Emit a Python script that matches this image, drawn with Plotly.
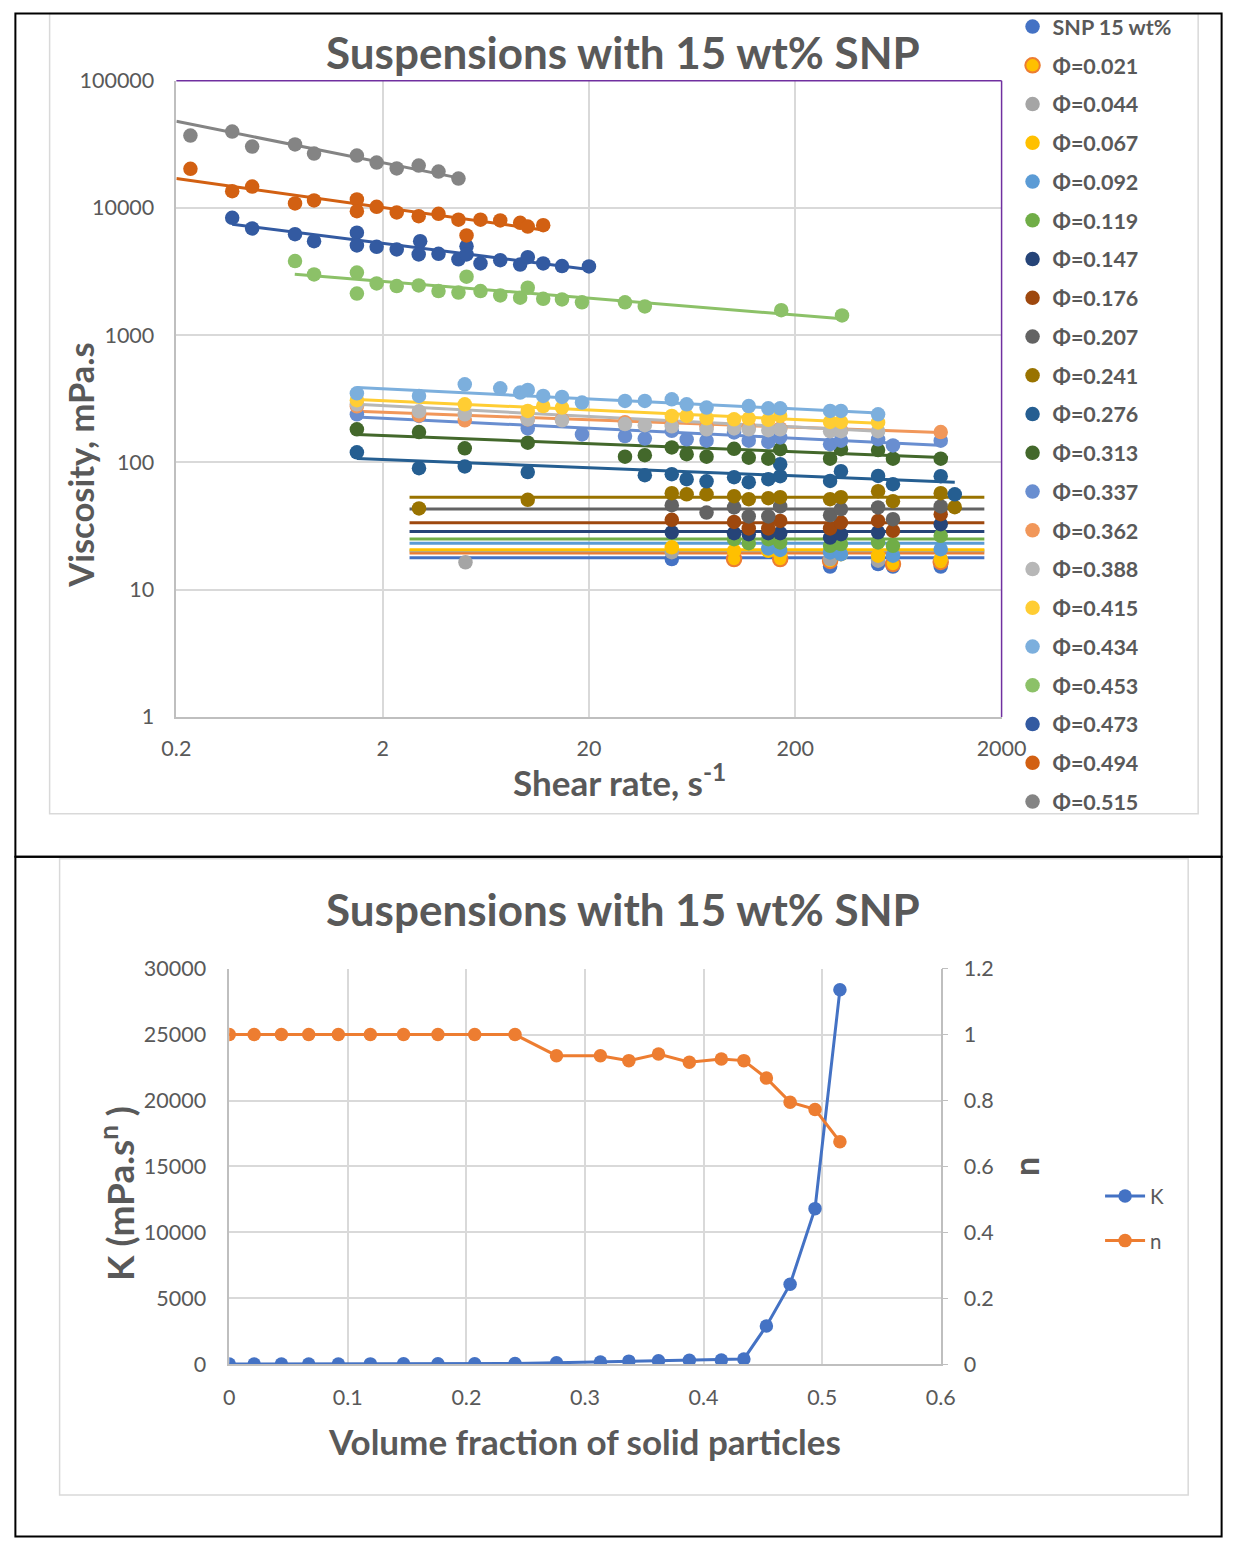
import numpy as np
import plotly.graph_objects as go

W, H = 1247, 1550

# ---------------- data ----------------
phi = [0, 0.021, 0.044, 0.067, 0.092, 0.119, 0.147, 0.176, 0.207, 0.241, 0.276,
       0.313, 0.337, 0.362, 0.388, 0.415, 0.434, 0.453, 0.473, 0.494, 0.515]
series_names = ['SNP 15 wt%'] + ['Φ=%.3f' % p for p in phi[1:]]
colors = ['#4472C4', '#FFC000', '#A5A5A5', '#FFC000', '#5B9BD5', '#70AD47', '#264478',
          '#9E480E', '#636363', '#997300', '#255E91', '#43682B', '#698ED0', '#F1975A',
          '#B7B7B7', '#FFCD33', '#7CAFDD', '#8CC168', '#335AA1', '#D26012', '#848484']
line_colors = list(colors)
line_colors[1] = '#ED7D31'

# power-law parameters (consistency index K, mPa.s^n, and flow index n)
K = [17.8, 19.4, 20.2, 20.6, 23.2, 25.0, 28.7, 33.5, 43.0, 53.3, 110,
     170, 235, 258, 296, 322, 400, 2900, 6070, 11800, 28400]
n_index = [1, 1, 1, 1, 1, 1, 1, 1, 1, 1, 0.936,
           0.936, 0.921, 0.941, 0.916, 0.926, 0.921, 0.868, 0.795, 0.773, 0.675]

# shear-rate extent of each fitted trendline (s^-1)
trend_lo = [2.7] * 10 + [1.5, 1.5, 1.5, 1.5, 1.5, 1.5, 1.5, 0.75, 0.373, 0.2, 0.2]
trend_hi = [1650] * 10 + [1186, 1100, 1050, 1000, 504, 504, 504, 337, 20, 12, 4.66]

# measured viscosity curves: shear rate (1/s) and viscosity (mPa.s)
shear_000 = [50.4, 295, 504, 595, 1014]
visc_000 = [17.4, 15.2, 15.9, 15.2, 15.2]
shear_021 = [101, 169, 295, 595, 1014]
visc_021 = [17.4, 17.4, 16.8, 15.9, 16.5]
shear_044 = [5.04, 50.4, 295, 504, 1014]
visc_044 = [16.4, 19.7, 17.4, 16.9, 17.4]
shear_067 = [50.4, 101, 148, 169, 333, 504, 1014]
visc_067 = [21.5, 20.2, 20.2, 19.0, 19.0, 18.5, 17.4]
shear_092 = [148, 169, 295, 333, 595, 1014]
visc_092 = [21.1, 20.5, 19.6, 19.0, 18.5, 20.8]
shear_119 = [101, 119, 148, 169, 295, 333, 504, 595, 1014]
visc_119 = [24.9, 23.2, 24.9, 23.5, 22.1, 22.8, 23.5, 22.1, 26.5]
shear_147 = [50.4, 101, 119, 148, 169, 295, 333, 504, 1014]
visc_147 = [28.2, 27.8, 27.3, 27.8, 27.8, 25.7, 27.3, 28.2, 32.7]
shear_176 = [50.4, 101, 119, 148, 169, 295, 333, 504, 595, 1014]
visc_176 = [35.4, 34.1, 30.3, 30.3, 34.7, 30.3, 33.7, 34.7, 29.0, 39.2]
shear_207 = [50.4, 74.3, 101, 119, 148, 169, 295, 333, 504, 595, 1014]
visc_207 = [46.1, 40.4, 44.3, 37.6, 37.6, 45.1, 38.5, 43.0, 44.3, 35.8, 45.1]
shear_241 = [3.0, 10.1, 50.4, 59.5, 74.3, 101, 119, 148, 169, 295, 333, 504, 595, 1014, 1186]
visc_241 = [43.5, 50.8, 57.3, 56.2, 56.2, 54.3, 51.4, 52.4, 53.3, 51.4, 53.3, 59.4, 49.6, 57.3, 44.5]
shear_276 = [1.5, 3.0, 5.0, 10.1, 37.3, 50.4, 59.5, 74.3, 101, 119, 148, 169, 169, 295, 333, 504, 595, 1014, 1186]
visc_276 = [120, 90, 93, 84, 79.4, 80.8, 73.8, 71.1, 76.5, 70, 73.8, 96.8, 78, 71.6, 85.3, 78.3, 67.5, 78, 56.2]
shear_313 = [1.5, 3.0, 5.0, 10.1, 29.9, 37.3, 50.4, 59.5, 74.3, 101, 119, 148, 169, 295, 333, 504, 595, 1014]
visc_313 = [182, 173, 129, 143, 111, 114, 131, 116, 111, 128, 109, 107, 127, 107, 127, 125, 107, 107]
shear_337 = [1.5, 3.0, 10.1, 18.5, 29.9, 37.3, 50.4, 59.5, 74.3, 101, 119, 148, 169, 295, 333, 504, 595, 1014]
visc_337 = [239, 232, 185, 166, 161, 154, 177, 152, 148, 172, 148, 145, 157, 139, 148, 152, 136, 148]
shear_362 = [1.5, 3.0, 5.0, 10.1, 14.8, 29.9, 50.4, 74.3, 119, 169, 333, 1014]
visc_362 = [276, 234, 214, 218, 218, 207, 200, 192, 189, 185, 179, 173]
shear_388 = [1.5, 3.0, 5.0, 10.1, 14.8, 29.9, 37.3, 50.4, 74.3, 101, 119, 148, 169, 295, 333, 504]
visc_388 = [286, 252, 239, 218, 214, 200, 196, 192, 182, 185, 182, 179, 182, 176, 176, 176]
shear_415 = [1.5, 5.0, 10.1, 12.0, 14.8, 50.4, 59.5, 74.3, 101, 119, 148, 169, 295, 333, 504]
visc_415 = [308, 286, 254, 277, 270, 232, 232, 222, 218, 221, 216, 232, 208, 208, 206]
shear_434 = [1.5, 3.0, 5.0, 7.43, 9.28, 10.1, 12.0, 14.8, 18.5, 29.9, 37.3, 50.4, 59.5, 74.3, 119, 148, 169, 295, 333, 504]
visc_434 = [349, 333, 411, 382, 354, 371, 333, 327, 295, 304, 304, 313, 286, 270, 277, 266, 266, 254, 254, 239]
shear_453 = [0.752, 0.93, 1.5, 1.5, 1.87, 2.34, 2.99, 3.73, 4.66, 5.1, 5.96, 7.43, 9.28, 10.1, 12.0, 14.8, 18.5, 29.9, 37.3, 171, 337]
visc_453 = [3820, 3000, 3100, 2120, 2550, 2430, 2460, 2220, 2160, 2880, 2220, 2050, 1970, 2360, 1930, 1910, 1810, 1810, 1680, 1570, 1430]
shear_473 = [0.373, 0.466, 0.752, 0.93, 1.5, 1.5, 1.87, 2.34, 3.04, 2.99, 3.73, 4.66, 5.1, 5.1, 5.96, 7.43, 9.28, 10.1, 12.0, 14.8, 20]
visc_473 = [8360, 6890, 6220, 5480, 6380, 5070, 4950, 4710, 5480, 4310, 4360, 3940, 5000, 4310, 3660, 3880, 3590, 4100, 3660, 3490, 3470]
shear_494 = [0.234, 0.373, 0.466, 0.752, 0.93, 1.5, 1.5, 1.87, 2.34, 2.99, 3.73, 4.66, 5.1, 5.96, 7.43, 9.28, 10.1, 12.0]
visc_494 = [20280, 13520, 14720, 10830, 11430, 11650, 9420, 10200, 9200, 8610, 8990, 8070, 6070, 8070, 7960, 7640, 7140, 7310]
shear_515 = [0.234, 0.373, 0.466, 0.752, 0.93, 1.5, 1.87, 2.34, 2.99, 3.73, 4.66]
visc_515 = [37000, 39800, 30300, 31500, 26700, 25800, 22700, 20400, 21500, 19300, 17000]

shear_all = [shear_000, shear_021, shear_044, shear_067, shear_092, shear_119, shear_147,
             shear_176, shear_207, shear_241, shear_276, shear_313, shear_337, shear_362,
             shear_388, shear_415, shear_434, shear_453, shear_473, shear_494, shear_515]
visc_all = [visc_000, visc_021, visc_044, visc_067, visc_092, visc_119, visc_147,
            visc_176, visc_207, visc_241, visc_276, visc_313, visc_337, visc_362,
            visc_388, visc_415, visc_434, visc_453, visc_473, visc_494, visc_515]

x_ticks_top = [0.2, 2, 20, 200, 2000]
y_ticks_top = [1, 10, 100, 1000, 10000, 100000]

# ---------------- styling ----------------
FONT = 'Lato'
GREY_TXT = '#595959'
GRID = '#d9d9d9'
AXLINE = '#bfbfbf'

# mapping from target-image pixels to figure paper fractions
SX, OX = 0.970, 14.3
SY, OY = 0.9843, 13.3


def px(X):
    v = (X - OX) / SX / W
    return min(max(v, 0.4 / W), 1 - 0.4 / W)


def py(Y):
    v = 1 - (Y - OY) / SY / H
    return min(max(v, 0.4 / H), 1 - 0.4 / H)


fig = go.Figure()

# trendlines (power law K*gamma^(n-1))
for i in range(len(phi)):
    g = np.logspace(np.log10(trend_lo[i]), np.log10(trend_hi[i]), 60)
    eta = K[i] * g ** (n_index[i] - 1)
    fig.add_trace(go.Scatter(x=g, y=eta, mode='lines', xaxis='x', yaxis='y',
                             line=dict(color=line_colors[i], width=3),
                             showlegend=False, hoverinfo='skip',
                             legendgroup='g%d' % i))

# measured points
for i in range(len(phi)):
    mk = dict(color=colors[i], size=14.5, line=dict(width=0))
    if i == 1:
        mk = dict(color=colors[i], size=14.5, line=dict(width=2, color='#ED7D31'))
    fig.add_trace(go.Scatter(x=shear_all[i], y=visc_all[i], mode='markers',
                             xaxis='x', yaxis='y', marker=mk,
                             name='<b>%s</b>' % series_names[i],
                             legendgroup='g%d' % i, legend='legend'))

# bottom chart: K and n vs volume fraction
fig.add_trace(go.Scatter(x=phi, y=K, mode='lines+markers', xaxis='x2', yaxis='y2',
                         name='K', line=dict(color='#4472C4', width=3),
                         marker=dict(color='#4472C4', size=13.5),
                         legend='legend2', legendgroup='K'))
fig.add_trace(go.Scatter(x=phi, y=n_index, mode='lines+markers', xaxis='x2', yaxis='y3',
                         name='n', line=dict(color='#ED7D31', width=3),
                         marker=dict(color='#ED7D31', size=13.5),
                         legend='legend2', legendgroup='n'))

tickfont = dict(family=FONT, size=21.5, color=GREY_TXT)

fig.update_layout(
    width=W, height=H, autosize=False,
    margin=dict(l=0, r=0, t=0, b=0),
    paper_bgcolor='white', plot_bgcolor='white',
    font=dict(family=FONT, color=GREY_TXT),
    xaxis=dict(type='log', range=[np.log10(0.2), np.log10(2000)],
               domain=[px(176), px(1003)], anchor='y',
               tickvals=x_ticks_top, ticktext=[str(v) for v in x_ticks_top],
               showgrid=True, gridcolor=GRID, gridwidth=2,
               showline=True, linecolor=AXLINE, linewidth=1.5,
               zeroline=False, ticks='', ticklabelstandoff=12, tickfont=tickfont),
    yaxis=dict(type='log', range=[0, 5],
               domain=[py(718), py(81)], anchor='x',
               tickvals=y_ticks_top, ticktext=[str(v) for v in y_ticks_top],
               showgrid=True, gridcolor=GRID, gridwidth=2,
               showline=True, linecolor=AXLINE, linewidth=1.5,
               zeroline=False, ticks='', ticklabelstandoff=16, tickfont=tickfont),
    xaxis2=dict(range=[0, 0.6], dtick=0.1, tick0=0,
                domain=[px(229), px(942)], anchor='y2',
                showgrid=True, gridcolor=GRID, gridwidth=1.5,
                showline=True, linecolor=AXLINE, linewidth=1.5,
                zeroline=False, ticks='', ticklabelstandoff=13, tickfont=tickfont),
    yaxis2=dict(range=[0, 30000], dtick=5000, tick0=0, tickformat='d',
                domain=[py(1366), py(970)], anchor='x2',
                showgrid=True, gridcolor=GRID, gridwidth=1.5,
                showline=True, linecolor=AXLINE, linewidth=1.5,
                zeroline=False, ticks='', ticklabelstandoff=17, tickfont=tickfont),
    yaxis3=dict(range=[0, 1.2], dtick=0.2, tick0=0, overlaying='y2', side='right',
                anchor='x2', showgrid=False,
                showline=True, linecolor=AXLINE, linewidth=1.5,
                zeroline=False, ticks='outside', ticklen=6, tickcolor=AXLINE,
                ticklabelstandoff=11, tickfont=tickfont),
    legend=dict(x=px(1014), y=1 + 7 / H, xanchor='left', yanchor='top',
                bgcolor='rgba(0,0,0,0)', borderwidth=0,
                font=dict(family=FONT, size=21.5, color=GREY_TXT),
                tracegroupgap=7.8, itemwidth=30, maxheight=2000),
    legend2=dict(x=px(1101.7), y=py(1177.7), xanchor='left', yanchor='top',
                 bgcolor='rgba(0,0,0,0)', borderwidth=0,
                 font=dict(family=FONT, size=20.5, color=GREY_TXT),
                 tracegroupgap=15, itemwidth=40),
    showlegend=True,
)

# frames
shapes = [
    dict(type='rect', xref='paper', yref='paper', x0=px(49), x1=px(1200), y0=py(815), y1=py(0),
         line=dict(color='#d9d9d9', width=1.5), layer='below'),
    dict(type='rect', xref='paper', yref='paper', x0=px(59), x1=px(1190), y0=py(1497), y1=py(860),
         line=dict(color='#d9d9d9', width=1.5), layer='below'),
    dict(type='rect', xref='paper', yref='paper', x0=px(2), x1=px(1245), y0=py(858), y1=py(1),
         line=dict(color='black', width=2), layer='below'),
    dict(type='rect', xref='paper', yref='paper', x0=px(2), x1=px(1245), y0=py(1548), y1=py(858),
         line=dict(color='black', width=2), layer='below'),
    dict(type='line', xref='x domain', yref='y domain', x0=0, x1=1, y0=1, y1=1,
         line=dict(color='#7030A0', width=1.5)),
    dict(type='line', xref='x domain', yref='y domain', x0=1, x1=1, y0=0, y1=1,
         line=dict(color='#7030A0', width=1.5)),
]
fig.update_layout(shapes=shapes)

ann = []


def add_text(text, X, Y, size, angle=0, bold=True):
    ann.append(dict(text=('<b>%s</b>' % text) if bold else text, x=px(X), y=py(Y),
                    xref='paper', yref='paper', showarrow=False, textangle=angle,
                    xanchor='center', yanchor='middle',
                    font=dict(family=FONT, size=size, color=GREY_TXT)))


add_text('Suspensions with 15 wt% SNP', 624, 52, 44)
add_text('Viscosity, mPa.s', 80, 466, 34.5, angle=-90)
add_text('Shear rate, s<sup>-1</sup>', 620, 781, 35)
add_text('Suspensions with 15 wt% SNP', 624, 910, 44)
add_text('Volume fraction of solid particles', 585, 1443, 35)
add_text('K (mPa.s<sup>n</sup>\u00a0)', 117, 1195, 37, angle=-90)
add_text('n', 1027, 1168, 34, angle=-90)
fig.update_layout(annotations=ann)

fig.write_html('out.html')
